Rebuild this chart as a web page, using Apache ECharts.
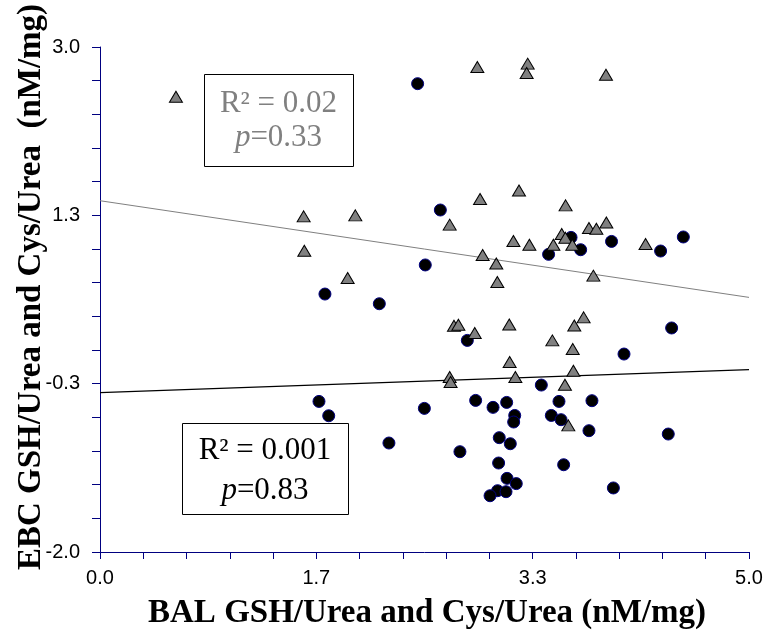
<!DOCTYPE html>
<html>
<head>
<meta charset="utf-8">
<script src="https://cdn.jsdelivr.net/npm/echarts@6/dist/echarts.min.js"></script>
<style>
html,body{margin:0;padding:0;background:#fff;}
#chart{width:770px;height:635px;}
</style>
</head>
<body>
<div id="chart"></div>
<script>
// Cys/Urea (gray triangles): [BAL, EBC]
var cysPoints = [
  [0.585, 2.508], [1.569, 1.323], [1.967, 1.333], [1.574, 0.983], [1.908, 0.713],
  [2.907, 2.802], [3.295, 2.835], [3.287, 2.742], [3.898, 2.726], [3.228, 1.580],
  [2.928, 1.495], [3.587, 1.432], [2.694, 1.241], [3.901, 1.263], [3.767, 1.208],
  [3.824, 1.201], [3.557, 1.148], [3.585, 1.112], [3.185, 1.079], [3.308, 1.042],
  [3.493, 1.042], [3.639, 1.042], [4.203, 1.050], [2.948, 0.941], [3.053, 0.857],
  [3.061, 0.673], [3.801, 0.736], [2.727, 0.240], [2.761, 0.250], [2.887, 0.168],
  [3.153, 0.253], [3.654, 0.243], [3.726, 0.323], [3.485, 0.095], [3.642, 0.010],
  [3.156, -0.119], [3.647, -0.205], [2.694, -0.267], [2.701, -0.317], [3.200, -0.267],
  [3.582, -0.344], [3.608, -0.746]
];
// GSH/Urea (black circles): [BAL, EBC]
var gshPoints = [
  [1.733, 0.554], [2.152, 0.458], [2.447, 2.637], [2.622, 1.386], [3.629, 1.115],
  [3.941, 1.075], [3.703, 0.993], [3.456, 0.947], [4.319, 0.980], [4.494, 1.119],
  [2.506, 0.842], [2.830, 0.095], [4.404, 0.218], [4.037, -0.040], [3.400, -0.347],
  [2.894, -0.499], [3.028, -0.568], [3.133, -0.519], [3.536, -0.509], [3.790, -0.502],
  [2.499, -0.578], [3.195, -0.648], [3.187, -0.713], [3.477, -0.648], [3.552, -0.690],
  [3.767, -0.799], [4.378, -0.832], [2.226, -0.921], [3.076, -0.868], [3.161, -0.928],
  [2.773, -1.007], [3.071, -1.119], [3.572, -1.136], [3.136, -1.271], [3.207, -1.323],
  [3.063, -1.393], [3.128, -1.403], [3.005, -1.443], [3.955, -1.366], [1.687, -0.509],
  [1.762, -0.651]
];
// Linear trend lines (endpoints at x = 0 and x = 5)
var cysTrend = [[0, 1.478], [5, 0.521]];
var gshTrend = [[0, -0.423], [5, -0.195]];

var xMin = 0, xMax = 5, yMin = -2, yMax = 3;
var tickStep = 1 / 3;
var cysStats = ['R\u00B2 = 0.02', '0.33'];
var gshStats = ['R\u00B2 = 0.001', '0.83'];
var xTitle = 'BAL GSH/Urea and Cys/Urea (nM/mg)';
var yTitle = 'EBC GSH/Urea and Cys/Urea  (nM/mg)';

function majorLabel(min) {
  return function (v) {
    var k = Math.round((v - min) / tickStep);
    if (k % 5 !== 0) return '';
    var val = min + k * tickStep;
    var s = val.toFixed(1);
    if (s === '-0.0') s = '0.0';
    return s;
  };
}

var axisColor = '#000080';
var chart = echarts.init(document.getElementById('chart'), null, {renderer: 'canvas'});
chart.setOption({
  animation: false,
  backgroundColor: '#ffffff',
  grid: {left: 100, right: 21, top: 47, bottom: 83},
  xAxis: {
    type: 'value', min: xMin, max: xMax, interval: tickStep,
    axisLine: {show: true, onZero: false, lineStyle: {color: axisColor, width: 1}},
    axisTick: {show: true, length: 7, lineStyle: {color: axisColor}},
    splitLine: {show: false},
    axisLabel: {formatter: majorLabel(xMin), color: '#000', fontFamily: 'Liberation Sans', fontSize: 20, margin: 16, showMinLabel: true, showMaxLabel: true}
  },
  yAxis: {
    type: 'value', min: yMin, max: yMax, interval: tickStep,
    axisLine: {show: true, onZero: false, lineStyle: {color: axisColor, width: 1}},
    axisTick: {show: true, length: 8, lineStyle: {color: axisColor}},
    splitLine: {show: false},
    axisLabel: {formatter: majorLabel(yMin), color: '#000', fontFamily: 'Liberation Sans', fontSize: 20, margin: 20, showMinLabel: true, showMaxLabel: true}
  },
  series: [
    {type: 'line', data: cysTrend, symbol: 'none', silent: true, z: 1,
     lineStyle: {color: '#808080', width: 1}},
    {type: 'line', data: gshTrend, symbol: 'none', silent: true, z: 1,
     lineStyle: {color: '#000000', width: 1.3}},
    {type: 'scatter', data: gshPoints, symbol: 'circle', symbolSize: 12, z: 2,
     itemStyle: {color: '#000000', borderColor: '#000080', borderWidth: 1, opacity: 1}},
    {type: 'scatter', data: cysPoints, symbol: 'triangle', symbolSize: [13, 11], z: 3,
     itemStyle: {color: '#808080', borderColor: '#000000', borderWidth: 1, opacity: 1}}
  ],
  graphic: [
    {type: 'rect', left: 204, top: 74, z: 10,
     shape: {width: 149, height: 92}, style: {fill: '#fff', stroke: '#000', lineWidth: 1}},
    {type: 'text', x: 278.5, y: 104, z: 11,
     style: {text: cysStats[0], fill: '#808080', font: '31px "Liberation Serif"', textAlign: 'center', textVerticalAlign: 'middle'}},
    {type: 'text', x: 278.5, y: 138, z: 11,
     style: {text: '{i|p}=' + cysStats[1], fill: '#808080', font: '31px "Liberation Serif"', textAlign: 'center', textVerticalAlign: 'middle',
       rich: {i: {fontStyle: 'italic', fontFamily: 'Liberation Serif', fontSize: 31, fill: '#808080', color: '#808080'}}}},
    {type: 'rect', left: 182, top: 423, z: 10,
     shape: {width: 166, height: 91}, style: {fill: '#fff', stroke: '#000', lineWidth: 1}},
    {type: 'text', x: 265, y: 451, z: 11,
     style: {text: gshStats[0], fill: '#000', font: '31px "Liberation Serif"', textAlign: 'center', textVerticalAlign: 'middle'}},
    {type: 'text', x: 265, y: 491, z: 11,
     style: {text: '{i|p}=' + gshStats[1], fill: '#000', font: '31px "Liberation Serif"', textAlign: 'center', textVerticalAlign: 'middle',
       rich: {i: {fontStyle: 'italic', fontFamily: 'Liberation Serif', fontSize: 31, fill: '#000', color: '#000'}}}},
    {type: 'text', x: 427, y: 613, z: 11,
     style: {text: xTitle, fill: '#000', font: 'bold 33px "Liberation Serif"', textAlign: 'center', textVerticalAlign: 'middle'}},
    {type: 'text', x: 31, y: 287, rotation: Math.PI / 2, z: 11,
     style: {text: yTitle, fill: '#000', font: 'bold 33px "Liberation Serif"', textAlign: 'center', textVerticalAlign: 'middle'}}
  ]
});
</script>
</body>
</html>
